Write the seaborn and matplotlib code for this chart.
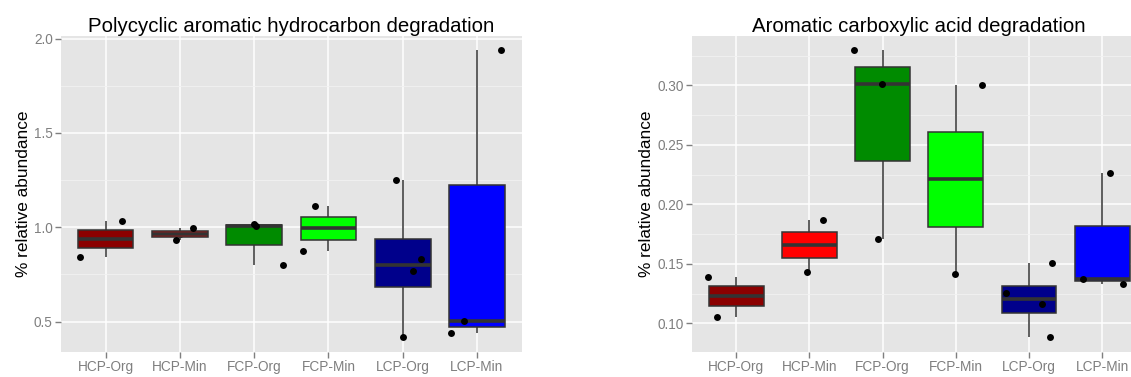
import numpy as np
import pandas as pd
import matplotlib
matplotlib.use("Agg")
import matplotlib.pyplot as plt
from matplotlib.ticker import MultipleLocator, FormatStrFormatter
import seaborn as sns

plt.rcParams["font.family"] = ["Liberation Sans", "DejaVu Sans"]

groups = ["HCP-Org", "HCP-Min", "FCP-Org", "FCP-Min", "LCP-Org", "LCP-Min"]
box_colors = ["#8B0000", "#FF0000", "#008B00", "#00FF00", "#00008B", "#0000FF"]

# % relative abundance per sample, polycyclic aromatic hydrocarbon degradation
pah_hcp_org = [0.843, 0.940, 1.032]
pah_hcp_min = [0.935, 0.967, 0.995]
pah_fcp_org = [0.801, 1.007, 1.018]
pah_fcp_min = [0.875, 0.995, 1.115]
pah_lcp_org = [0.417, 0.770, 0.834, 1.251]
pah_lcp_min = [0.442, 0.504, 1.939]

# % relative abundance per sample, aromatic carboxylic acid degradation
aca_hcp_org = [0.1056, 0.1230, 0.1393]
aca_hcp_min = [0.1435, 0.1657, 0.1871]
aca_fcp_org = [0.1711, 0.3014, 0.3297]
aca_fcp_min = [0.1416, 0.2210, 0.3000]
aca_lcp_org = [0.0882, 0.1160, 0.1256, 0.1503]
aca_lcp_min = [0.1334, 0.1371, 0.2261]

# groups whose middle sample sits behind its box
behind_box = ["HCP-Org", "HCP-Min", "FCP-Min"]


def panel_frame(value_lists):
    rows = []
    for g, vals in zip(groups, value_lists):
        med = float(np.median(vals))
        for v in vals:
            rows.append({"group": g, "value": v,
                         "behind": (g in behind_box) and np.isclose(v, med)})
    return pd.DataFrame(rows)


pah = panel_frame([pah_hcp_org, pah_hcp_min, pah_fcp_org,
                   pah_fcp_min, pah_lcp_org, pah_lcp_min])
aca = panel_frame([aca_hcp_org, aca_hcp_min, aca_fcp_org,
                   aca_fcp_min, aca_lcp_org, aca_lcp_min])

grey_text = "#7F7F7F"
edge = "#333333"


def draw_panel(ax, df, title, major, minor, fmt, seed, label_x):
    ax.set_facecolor("#E5E5E5")
    sns.stripplot(data=df[df["behind"]], x="group", y="value", order=groups,
                  color="black", size=5, jitter=False, zorder=1, ax=ax)
    sns.boxplot(data=df, x="group", y="value", order=groups, hue="group",
                hue_order=groups, palette=box_colors, legend=False,
                saturation=1, width=0.75, linewidth=1.1, linecolor=edge,
                showcaps=False, showfliers=False, whis=1.5,
                medianprops=dict(linewidth=2.6, color=edge), ax=ax)
    np.random.seed(seed)
    sns.stripplot(data=df[~df["behind"]], x="group", y="value", order=groups,
                  color="black", size=5, jitter=0.4, zorder=3, ax=ax)

    lo, hi = df["value"].min(), df["value"].max()
    span = hi - lo
    ax.set_ylim(lo - 0.05 * span, hi + 0.05 * span)
    ax.set_xlim(-0.6, len(groups) - 0.4)

    ax.yaxis.set_major_locator(MultipleLocator(major))
    ax.yaxis.set_minor_locator(MultipleLocator(minor))
    ax.yaxis.set_major_formatter(FormatStrFormatter(fmt))
    ax.set_axisbelow(True)
    ax.grid(which="major", color="white", linewidth=1.1)
    ax.grid(which="minor", axis="y", color="#F2F2F2", linewidth=0.6)
    ax.xaxis.grid(True, which="major", color="white", linewidth=1.1)
    for s in ax.spines.values():
        s.set_visible(False)
    ax.tick_params(axis="both", which="major", length=4, width=1,
                   color=grey_text, labelcolor=grey_text, labelsize=9.8,
                   pad=2)
    ax.tick_params(axis="both", which="minor", length=0)
    ax.set_xlabel("")
    ax.set_ylabel("% relative abundance", fontsize=12.4, color="black")
    ax.yaxis.set_label_coords(label_x, 0.5)
    ax.set_title(title, fontsize=14.7, color="black", pad=3)


W, H = 1131, 377
fig = plt.figure(figsize=(W / 100, H / 100), dpi=100, facecolor="white")
ax1 = fig.add_axes([61 / W, 25.3 / H, 460.5 / W, 316 / H])
ax2 = fig.add_axes([692.3 / W, 25.3 / H, 453.8 / W, 316 / H])

draw_panel(ax1, pah, "Polycyclic aromatic hydrocarbon degradation",
           0.5, 0.25, "%.1f", 7, -0.066)
draw_panel(ax2, aca, "Aromatic carboxylic acid degradation",
           0.05, 0.025, "%.2f", 11, -0.0855)

fig.savefig("out.png", dpi=100, facecolor="white")
